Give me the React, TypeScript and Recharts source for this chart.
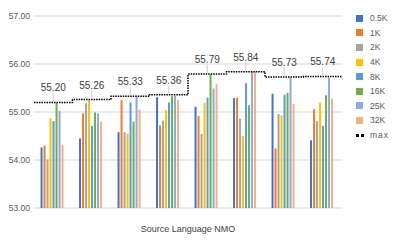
import React from 'react';
import { ComposedChart, Bar, Line, XAxis, YAxis, CartesianGrid, LabelList, Label } from 'recharts';

const groups = ['G1', 'G2', 'G3', 'G4', 'G5', 'G6', 'G7', 'G8'];
const seriesNames = ['0.5K', '1K', '2K', '4K', '8K', '16K', '25K', '32K'];
const colors = ['#4472C4', '#ED7D31', '#A5A5A5', '#FFC000', '#5B9BD5', '#70AD47', '#8EA9DB', '#F4B084'];

const s05k = [54.26, 54.45, 54.58, 55.31, 55.11, 55.29, 55.38, 54.41];
const s1k = [54.30, 54.97, 55.25, 54.72, 54.92, 55.30, 54.24, 55.06];
const s2k = [54.01, 55.18, 54.58, 54.82, 54.54, 54.86, 54.96, 54.81];
const s4k = [54.87, 55.25, 54.55, 55.04, 55.19, 54.50, 54.93, 55.20];
const s8k = [54.81, 54.71, 55.20, 55.20, 55.30, 55.60, 55.36, 54.71];
const s16k = [55.19, 54.99, 54.80, 55.33, 55.78, 55.14, 55.40, 55.35];
const s25k = [55.02, 54.97, 55.32, 55.34, 55.49, 55.84, 55.72, 55.72];
const s32k = [54.32, 54.80, 55.05, 55.25, 55.58, 55.84, 55.17, 55.28];
const maxValues = [55.20, 55.26, 55.33, 55.36, 55.79, 55.84, 55.73, 55.74];
const yTicks = [53, 54, 55, 56, 57];

const allSeries = [s05k, s1k, s2k, s4k, s8k, s16k, s25k, s32k];

const data = groups.map((g, i) => {
  const row: Record<string, number | string> = { name: g, maxv: maxValues[i] };
  seriesNames.forEach((s, j) => { row[s] = allSeries[j][i]; });
  return row;
});

// step line spans whole category width, so it gets its own numeric axis 0..8
const stepData = [...maxValues, maxValues[maxValues.length - 1]].map((v, i) => ({ pos: i, step: v }));

const font = '"Liberation Sans", Arial, sans-serif';

function MaxLabel(props: any) {
  const { x, y, value } = props;
  if (x == null || y == null) return null;
  return (
    <g>
      <line x1={x} x2={x} y1={y - 9} y2={y - 1} stroke="#BFBFBF" strokeWidth={0.8} />
      <text x={x} y={y - 11} textAnchor="middle" fontSize={10} fill="#404040" fontFamily={font}>
        {Number(value).toFixed(2)}
      </text>
    </g>
  );
}

export default function App() {
  return (
    <div style={{ position: 'absolute', left: 0, top: 0, width: 397, height: 245, background: '#fff' }}>
      <ComposedChart
        width={397}
        height={245}
        data={data}
        margin={{ top: 16, right: 55, bottom: 0, left: 0 }}
        barCategoryGap="17%"
        barGap={1}
      >
        <CartesianGrid vertical={false} stroke="#D9D9D9" />
        <XAxis dataKey="name" tick={false} axisLine={false} tickLine={false} height={37}>
          <Label value="Source Language NMO" position="insideBottom" offset={13} fontSize={9} fill="#404040" fontFamily={font} />
        </XAxis>
        <XAxis xAxisId="m" type="number" dataKey="pos" domain={[0, 8]} hide allowDataOverflow />
        <YAxis
          domain={[53, 57]}
          ticks={yTicks}
          width={34}
          axisLine={false}
          tickLine={false}
          tickSize={4}
          tickMargin={0}
          tickFormatter={(v: number) => v.toFixed(2)}
          tick={{ fontSize: 8.5, fill: '#595959', fontFamily: font }}
        />
        {seriesNames.map((s, j) => (
          <Bar key={s} dataKey={s} fill={colors[j]} isAnimationActive={false} />
        ))}
        <Line
          xAxisId="m"
          data={stepData}
          dataKey="step"
          type="stepAfter"
          stroke="#000"
          strokeWidth={1.5}
          strokeDasharray="1.5 1"
          dot={false}
          isAnimationActive={false}
        />
        <Line dataKey="maxv" stroke="none" dot={false} activeDot={false} isAnimationActive={false}>
          <LabelList dataKey="maxv" content={<MaxLabel />} />
        </Line>
      </ComposedChart>
      <div style={{ position: 'absolute', left: 356, top: 11, fontFamily: font, fontSize: 8.5, color: '#595959' }}>
        {seriesNames.map((s, j) => (
          <div key={s} style={{ display: 'flex', alignItems: 'center', height: 14.6 }}>
            <div style={{ width: 7, height: 7, background: colors[j], marginRight: 7 }} />
            <span>{s}</span>
          </div>
        ))}
        <div style={{ display: 'flex', alignItems: 'center', height: 14.6 }}>
          <div style={{ width: 3, height: 3, background: '#000', marginRight: 2 }} />
          <div style={{ width: 3, height: 3, background: '#000', marginRight: 6 }} />
          <span style={{ letterSpacing: 1 }}>max</span>
        </div>
      </div>
    </div>
  );
}
